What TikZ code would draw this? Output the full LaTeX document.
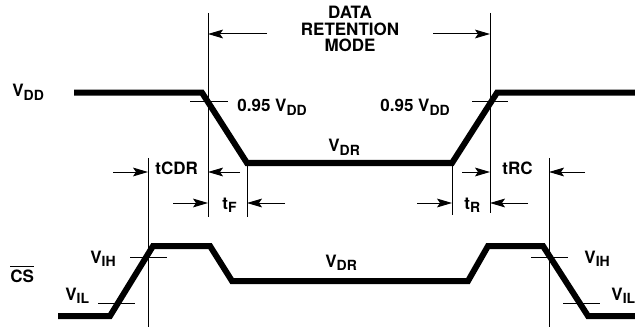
\documentclass[tikz,border=0pt]{standalone}
\usepackage{fontspec}
\setmainfont{TeX Gyre Heros}
\usetikzlibrary{arrows.meta}
\newcommand{\lowsub}[1]{\raisebox{-1.7pt}{\fontsize{7}{7}\selectfont #1}}

\begin{document}
\begin{tikzpicture}[x=0.5pt,y=-0.5pt,
   wave/.style={line width=3pt},
   thin/.style={line width=0.5pt},
   dim/.style={line width=0.5pt,-{Stealth[length=7.5pt,width=4.4pt,inset=1.5pt]}},
   lbl/.style={inner sep=0pt,font=\fontsize{8.5}{8.3}\selectfont\bfseries}]
   \useasboundingbox (0,0) rectangle (635,331);
   % supply and chip select waveforms
   \draw[wave] (74,92.7) -- (202,92.7) -- (247,163) -- (452,163) -- (497,92.7) -- (635,92.7);
   \draw[wave] (58,316) -- (110,316) -- (153,246) -- (210,246) -- (232,281)
      -- (468,281) -- (488,246) -- (543,246) -- (588,316) -- (635,316);
   % timing marks
   \draw[thin] (208,13) -- (208,217);
   \draw[thin] (490,13) -- (490,213);
   \draw[thin] (148,158) -- (148,327);
   \draw[thin] (549,158) -- (549,327);
   \draw[thin] (247,163) -- (247,217);
   \draw[thin] (452,163) -- (452,215);
   % level ticks
   \draw[thin] (190,102) -- (228,102);
   \draw[thin] (472,102) -- (508,102);
   \draw[thin] (130,257) -- (167,257);
   \draw[thin] (98,303) -- (135,303);
   \draw[thin] (531,257) -- (568,257);
   \draw[thin] (563,303) -- (600,303);
   % dimension arrows
   \draw[dim] (267,34) -- (208,34);
   \draw[dim] (433,34) -- (490,34);
   \draw[dim] (113,172) -- (148,172);
   \draw[dim] (240,172) -- (208,172);
   \draw[dim] (173,203) -- (208,203);
   \draw[dim] (285,203) -- (247,203);
   \draw[dim] (462,172) -- (490,172);
   \draw[dim] (585,172) -- (549,172);
   \draw[dim] (417,203) -- (452,203);
   \draw[dim] (528,203) -- (490,203);
   % labels
   \node[lbl,align=center,anchor=base] (mode) at (350,52) {DATA\\RETENTION\\MODE};
   \node[lbl,anchor=base west] (vdd) at (12,97) {V\lowsub{DD}};
   \node[lbl,anchor=base west] (lthr) at (237,112) {0.95 V\lowsub{DD}};
   \node[lbl,anchor=base west] (rthr) at (380,112) {0.95 V\lowsub{DD}};
   \node[lbl,anchor=base west] (vdra) at (328,152) {V\lowsub{DR}};
   \node[lbl,anchor=base west] (vdrb) at (325,267) {V\lowsub{DR}};
   \node[lbl,anchor=base west] (tcdr) at (155,175) {tCDR};
   \node[lbl,anchor=base west] (tf) at (222,209) {t\lowsub{F}};
   \node[lbl,anchor=base west] (trc) at (502,175) {tRC};
   \node[lbl,anchor=base west] (tr) at (464,209) {t\lowsub{R}};
   \node[lbl,anchor=base west] (cs) at (10,282) {$\overline{\hbox{\bfseries CS}}$};
   \node[lbl,anchor=base west] (vihl) at (90,263) {V\lowsub{IH}};
   \node[lbl,anchor=base west] (vill) at (65,300) {V\lowsub{IL}};
   \node[lbl,anchor=base west] (vihr) at (584,263) {V\lowsub{IH}};
   \node[lbl,anchor=base west] (vilr) at (611,300) {V\lowsub{IL}};
\end{tikzpicture}
\end{document}
